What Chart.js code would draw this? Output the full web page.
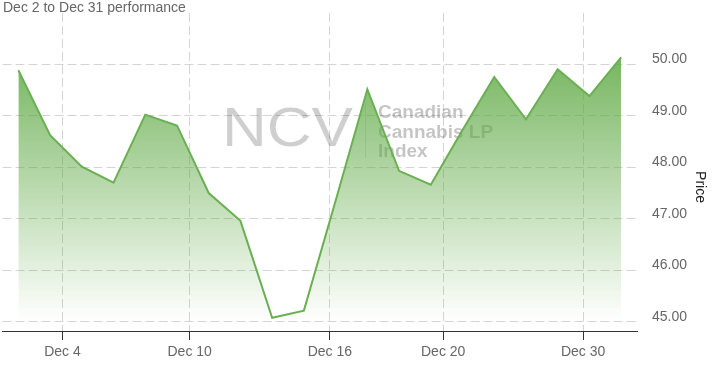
<!DOCTYPE html>
<html>
<head>
<meta charset="utf-8">
<script src="https://cdn.jsdelivr.net/npm/chart.js@4"></script>
<style>
  html, body { margin: 0; padding: 0; background: #fff; }
  #wrap { width: 718px; height: 366px; position: relative; }
</style>
</head>
<body>
<div id="wrap"><canvas id="chart"></canvas></div>
<script>
// trading days, Dec 2 to Dec 31
const dates = ['Dec 2', 'Dec 3', 'Dec 4', 'Dec 5', 'Dec 6', 'Dec 9', 'Dec 10', 'Dec 11', 'Dec 12', 'Dec 13',
               'Dec 16', 'Dec 17', 'Dec 18', 'Dec 19', 'Dec 20', 'Dec 23', 'Dec 24', 'Dec 27', 'Dec 30', 'Dec 31'];
const prices = [49.88, 48.62, 48.01, 47.70, 49.02, 48.81, 47.50, 46.96, 45.08, 45.22,
                47.35, 49.51, 47.93, 47.66, 48.72, 49.75, 48.93, 49.90, 49.38, 50.13];

// x axis labels and where they sit (in point index units)
const tickLabels = ['Dec 4', 'Dec 10', 'Dec 16', 'Dec 20', 'Dec 30'];
const tickAt = [1.39, 5.40, 9.82, 13.39, 17.80];
const priceTicks = [45, 46, 47, 48, 49, 50];

const FONT = '"Liberation Sans", Arial, sans-serif';
const GREEN = 'rgb(106,176,82)';

const points = prices.map((p, i) => ({ x: i, y: p, d: dates[i] }));

const decor = {
  id: 'decor',
  beforeDatasetsDraw(chart) {
    const ctx = chart.ctx;
    ctx.save();
    // watermark
    ctx.font = '56px ' + FONT;
    ctx.fillStyle = 'rgba(0,0,0,0.19)';
    ctx.textBaseline = 'alphabetic';
    const w = ctx.measureText('NCV').width;
    ctx.translate(222, 146);
    ctx.scale(131 / w, 1);
    ctx.fillText('NCV', 0, 0);
    ctx.restore();

    ctx.save();
    ctx.strokeStyle = 'rgba(0,0,0,0.12)';
    ctx.lineWidth = 1;
    ctx.beginPath();
    ctx.moveTo(365.5, 104);
    ctx.lineTo(365.5, 158);
    ctx.stroke();
    ctx.font = 'bold 19px ' + FONT;
    ctx.fillStyle = 'rgba(0,0,0,0.23)';
    ctx.fillText('Canadian', 378, 118);
    ctx.fillText('Cannabis LP', 378, 137.5);
    ctx.fillText('Index', 378, 156.5);
    ctx.restore();
  },
  afterDraw(chart) {
    const ctx = chart.ctx;
    ctx.save();
    ctx.font = '14px ' + FONT;
    ctx.fillStyle = '#666';
    ctx.textBaseline = 'alphabetic';
    ctx.fillText('Dec 2 to Dec 31 performance', 3, 12);
    // axis title
    ctx.fillStyle = '#222';
    ctx.textAlign = 'center';
    ctx.textBaseline = 'middle';
    ctx.translate(700, 187);
    ctx.rotate(Math.PI / 2);
    ctx.fillText('Price', 0, 0);
    ctx.restore();
  }
};

const noPad = (s) => { s.paddingTop = 0; s.paddingBottom = 0; s.paddingLeft = 0; s.paddingRight = 0; };

new Chart(document.getElementById('chart'), {
  type: 'line',
  data: {
    datasets: [{
      label: 'Price',
      data: points,
      borderColor: GREEN,
      borderWidth: 2,
      pointRadius: 0,
      tension: 0,
      fill: 'start',
      backgroundColor: (c) => {
        const area = c.chart.chartArea;
        if (!area) return 'rgba(106,176,82,0.5)';
        const y = c.chart.scales.y;
        const g = c.chart.ctx.createLinearGradient(0, area.top, 0, y.getPixelForValue(45));
        g.addColorStop(0, 'rgba(96,170,70,1)');
        g.addColorStop(1, 'rgba(96,170,70,0)');
        return g;
      }
    }]
  },
  options: {
    responsive: true,
    maintainAspectRatio: false,
    animation: false,
    layout: { padding: { left: 2.5, top: 13, right: 0, bottom: 0 } },
    plugins: {
      legend: { display: false },
      tooltip: { enabled: false }
    },
    scales: {
      x: {
        type: 'linear',
        min: -0.5,
        max: 19.5,
        afterBuildTicks: (s) => { s.ticks = tickAt.map(v => ({ value: v })); },
        afterFit: (s) => { s.height = 35; noPad(s); },
        grid: {
          color: 'rgba(0,0,0,0.17)',
          tickColor: '#333',
          tickLength: 9,
          tickBorderDash: []
        },
        border: { display: true, color: '#333', width: 1, dash: [9, 4] },
        ticks: {
          autoSkip: false,
          maxRotation: 0,
          padding: 4,
          color: '#666',
          font: { family: FONT, size: 14 },
          callback: (v, i) => tickLabels[i]
        }
      },
      y: {
        position: 'right',
        min: 44.825,
        max: 50.99,
        afterBuildTicks: (s) => { s.ticks = priceTicks.map(v => ({ value: v })); },
        afterFit: (s) => { s.width = 81; noPad(s); },
        grid: { color: 'rgba(0,0,0,0.17)', drawTicks: false },
        border: { display: false, dash: [9, 4] },
        ticks: {
          padding: 15,
          labelOffset: -5,
          color: '#666',
          font: { family: FONT, size: 14 },
          callback: (v) => v.toFixed(2)
        }
      }
    }
  },
  plugins: [decor]
});
</script>
</body>
</html>
